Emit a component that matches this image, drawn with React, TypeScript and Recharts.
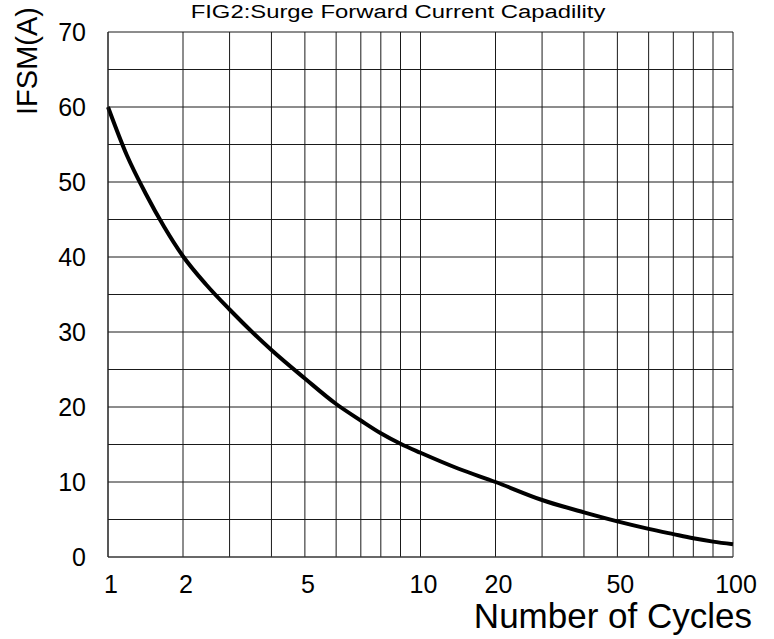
import { LineChart, Line, XAxis, YAxis, CartesianGrid } from 'recharts'

// values
const cycles = [1, 1.25, 1.5, 1.75, 2, 2.5, 3, 4, 5, 6, 7, 8, 9, 10, 15, 20, 30, 40, 50, 60, 70, 80, 90, 100]
const ifsm = [60, 53.6, 48.5, 44, 40.1, 36.3, 33, 27.6, 23.8, 20.4, 18.2, 16.5, 15.1, 13.9, 11.8, 10, 7.6, 5.95, 4.75, 3.75, 3.05, 2.5, 2.05, 1.7]

const gridCycles = [1, 2, 3, 4, 5, 6, 7, 8, 9, 10, 20, 30, 40, 50, 60, 70, 80, 90, 100]
const labelCycles = [1, 2, 5, 10, 20, 50, 100]
const yTicks = [0, 5, 10, 15, 20, 25, 30, 35, 40, 45, 50, 55, 60, 65, 70]

// the sheet's cycle axis is not a true log scale: each decade is split like this
const MANTISSA = [1, 2, 3, 4, 5, 6, 7, 8, 9, 10]
const DECADE_SPLIT = [0, 0.24, 0.389, 0.523, 0.63, 0.73, 0.809, 0.873, 0.936, 1]

function toAxis(c: number) {
  let d = Math.floor(Math.log10(c) + 1e-9)
  if (d > 1) d = 1
  const m = c / Math.pow(10, d)
  for (let i = 0; i < MANTISSA.length - 1; i++) {
    if (m <= MANTISSA[i + 1] + 1e-9) {
      const t = (m - MANTISSA[i]) / (MANTISSA[i + 1] - MANTISSA[i])
      return d + DECADE_SPLIT[i] + t * (DECADE_SPLIT[i + 1] - DECADE_SPLIT[i])
    }
  }
  return d + 1
}

const data = cycles.map((c, i) => ({ u: toAxis(c), cycles: c, ifsm: ifsm[i] }))
const xTicks = gridCycles.map(toAxis)

const font = '"Liberation Sans", Arial, sans-serif'

function xLabel(u: number) {
  const c = gridCycles.find((g) => Math.abs(toAxis(g) - u) < 1e-6)
  return c !== undefined && labelCycles.includes(c) ? String(c) : ''
}

export default function App() {
  return (
    <div style={{ width: 774, height: 639, background: '#fff', fontFamily: font }}>
      <style>{'body{margin:0}'}</style>
      <LineChart width={774} height={639} data={data} margin={{ top: 32, right: 41, left: 0, bottom: 0 }}>
        <CartesianGrid stroke="#1a1a1a" strokeWidth={1} verticalValues={xTicks} horizontalValues={yTicks} />
        <XAxis
          dataKey="u"
          type="number"
          domain={[0, 2]}
          ticks={xTicks}
          interval={0}
          height={82}
          tickSize={0}
          tickMargin={18}
          tickLine={false}
          axisLine={{ stroke: '#444' }}
          tickFormatter={xLabel}
          tick={{ fill: '#000', fontSize: 25, fontFamily: font, dx: 3 }}
        />
        <YAxis
          type="number"
          domain={[0, 70]}
          ticks={yTicks}
          interval={0}
          width={108}
          tickSize={0}
          tickMargin={22}
          tickLine={false}
          axisLine={{ stroke: '#222' }}
          tickFormatter={(v: number) => (v % 10 === 0 ? String(v) : '')}
          tick={{ fill: '#000', fontSize: 25, fontFamily: font }}
        />
        <Line
          dataKey="ifsm"
          type="monotone"
          stroke="#000"
          strokeWidth={4}
          dot={false}
          isAnimationActive={false}
        />
        <text
          transform="translate(398, 18) scale(1.256, 1)"
          textAnchor="middle"
          fontSize={19}
          fontFamily={font}
          fill="#000"
        >
          FIG2:Surge Forward Current Capadility
        </text>
        <text transform="translate(37, 61) rotate(-90)" textAnchor="middle" fontSize={29} fontFamily={font} fill="#000">
          IFSM(A)
        </text>
        <text x={752} y={628} textAnchor="end" fontSize={35} fontFamily={font} fill="#000">
          Number of Cycles
        </text>
      </LineChart>
    </div>
  )
}
